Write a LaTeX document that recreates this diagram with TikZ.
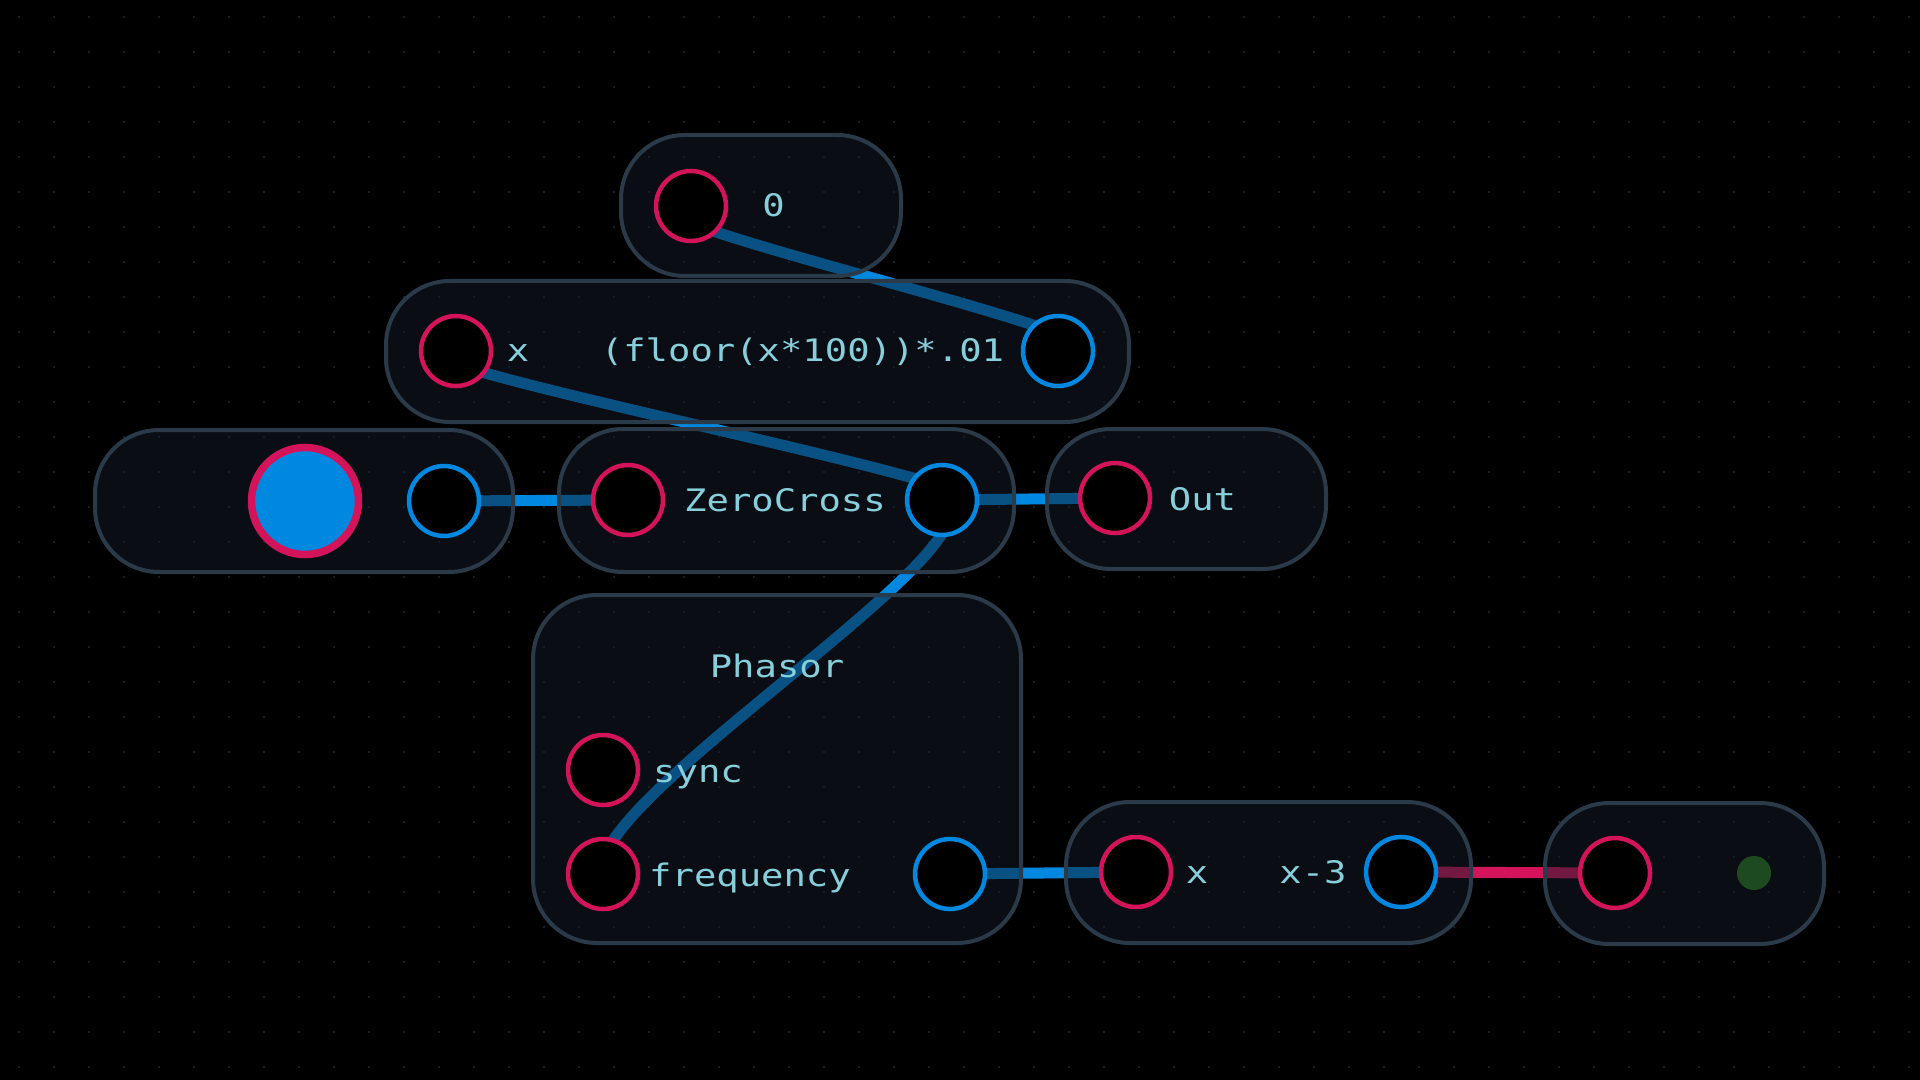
\documentclass[tikz,border=0pt]{standalone}
\usepackage{fontspec}
\setmonofont[FakeStretch=1.2]{DejaVu Sans Mono}
\pgfdeclarelayer{bg}
\pgfdeclarelayer{wires}
\pgfsetlayers{bg,wires,main}
\definecolor{bgc}{HTML}{000000}
\definecolor{dotc}{HTML}{1E2C3A}
\definecolor{boxfill}{HTML}{141C28}
\definecolor{boxline}{HTML}{2A3A48}
\definecolor{wblue}{HTML}{0088E0}
\definecolor{crim}{HTML}{D4145A}
\definecolor{txt}{HTML}{86CFDB}
\definecolor{ledg}{HTML}{1D4A1E}
\begin{document}
\begin{tikzpicture}[x=0.5pt,y=-0.5pt,
  pbox/.style={rectangle, draw=boxline, line width=2pt, fill=boxfill, fill opacity=0.5, draw opacity=1, rounded corners=32pt, inner sep=0pt, outer sep=0pt},
  inport/.style={circle, draw=crim, line width=2.25pt, fill=black, minimum size=35pt, inner sep=0pt, outer sep=0pt},
  outport/.style={inport, draw=wblue},
  wire/.style={line width=5.5pt, draw=wblue},
  rwire/.style={wire, draw=crim},
  lbl/.style={text=txt, font=\ttfamily\fontsize{15.5}{18}\selectfont, inner sep=0pt, anchor=base}]
\useasboundingbox (0,0) rectangle (1920,1080);
\begin{pgfonlayer}{bg}
  \fill[bgc] (0,0) rectangle (1920,1080);
  \foreach \gx in {19,54,...,1919}
    \foreach \gy in {17,52,...,1080}
      \fill[dotc] (\gx,\gy) circle[radius=0.6pt];
\end{pgfonlayer}

% boxes
\node[pbox, minimum width=140pt, minimum height=70.5pt] (zerobox) at (761,205.5) {};
\node[pbox, minimum width=371.5pt, minimum height=70.5pt] (floorbox) at (757.5,351.5) {};
\node[pbox, minimum width=209pt, minimum height=71pt] (knobbox) at (304,501) {};
\node[pbox, minimum width=227.5pt, minimum height=71.5pt] (zcbox) at (786.5,500.5) {};
\node[pbox, minimum width=139.5pt, minimum height=70pt] (outbox) at (1186.5,499) {};
\node[pbox, minimum width=244pt, minimum height=174pt] (phbox) at (777,769) {};
\node[pbox, minimum width=202.5pt, minimum height=70.5pt] (x3box) at (1268.5,872.5) {};
\node[pbox, minimum width=139.5pt, minimum height=70.5pt] (lastbox) at (1684.5,873.5) {};

% ports
\node[inport] (zin) at (691,206) {};
\node[inport] (fxin) at (456,351) {};
\node[outport] (fxout) at (1058,351) {};
\node[circle, draw=crim, line width=3.75pt, fill=wblue, minimum size=53.5pt, inner sep=0pt] (knob) at (305,501) {};
\node[outport] (knobout) at (444,501) {};
\node[inport] (zcin) at (628,500) {};
\node[outport] (zcout) at (942,500) {};
\node[inport] (outin) at (1115,498) {};
\node[inport] (syncin) at (603,770) {};
\node[inport] (freqin) at (603,874) {};
\node[outport] (phout) at (950,874) {};
\node[inport] (x3in) at (1136,872) {};
\node[outport] (x3out) at (1401,872) {};
\node[inport] (lastin) at (1615,873) {};
\node[circle, fill=ledg, minimum size=17pt, inner sep=0pt] (led) at (1754,873) {};

% labels
\node[lbl] (t0) at (773.5,217) {0};
\node[lbl] (tx1) at (518,362) {x};
\node[lbl] (tfloor) at (802.5,362) {(floor(x*100))*.01};
\node[lbl] (tzc) at (785,511) {ZeroCross};
\node[lbl] (tout) at (1202.5,510) {Out};
\node[lbl] (tph) at (777,677) {Phasor};
\node[lbl] (tsync) at (698,782) {sync};
\node[lbl] (tfreq) at (750,886) {frequency};
\node[lbl] (tx2) at (1197,883) {x};
\node[lbl] (tx3) at (1313,883) {x-3};

% wires
\begin{pgfonlayer}{wires}
  \draw[wire] (fxout.center) to[out=0,in=180,distance=75pt] (zin.center);
  \draw[wire] (zcout.center) to[out=0,in=180,distance=75pt] (fxin.center);
  \draw[wire] (zcout.center) .. controls +(70,42) and +(-23,-71) .. (freqin.center);
  \draw[wire] (knobout.center) -- (zcin.center);
  \draw[wire] (zcout.center) -- (outin.center);
  \draw[wire] (phout.center) -- (x3in.center);
  \draw[rwire] (x3out.center) -- (lastin.center);
\end{pgfonlayer}
\end{tikzpicture}
\end{document}
